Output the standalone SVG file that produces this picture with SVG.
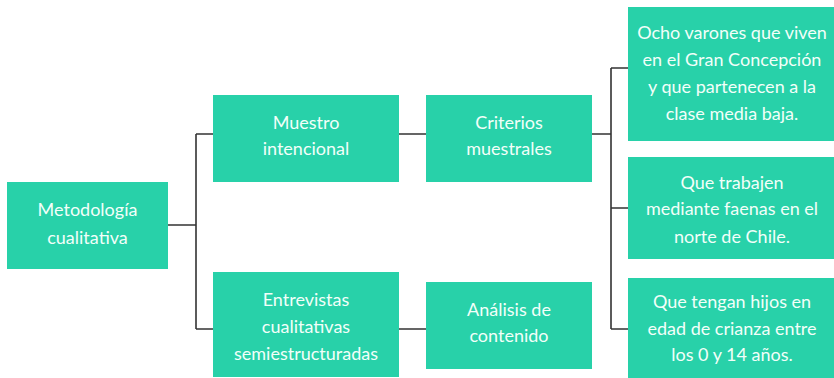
<svg xmlns="http://www.w3.org/2000/svg" width="834" height="378" viewBox="0 0 834 378">
<style>
.box{fill:#28d1a9}
.t{font-family:Lato,"Open Sans",sans-serif;font-size:18px;fill:#f2fff9;text-anchor:middle}
.c{fill:none;stroke:#333;stroke-width:1.6}
</style>
<rect width="834" height="378" fill="#fff"/>
<g id="connectors">
<path class="c" d="M168 225H196M196 134V329M196 134H213M196 329H213"/>
<path class="c" d="M399 134H426M399 329H426"/>
<path class="c" d="M592 134H611M611 68V329M611 68H628M611 208H628M611 329H628"/>
</g>
<g id="n1"><rect class="box" x="7" y="182" width="161" height="87"/>
<text class="t" x="87.5" y="216">Metodología</text><text class="t" x="87.5" y="244">cualitativa</text></g>
<g id="n2"><rect class="box" x="213" y="95" width="186" height="87"/>
<text class="t" x="306" y="129">Muestro</text><text class="t" x="306" y="155">intencional</text></g>
<g id="n3"><rect class="box" x="213" y="272" width="186" height="105"/>
<text class="t" x="306" y="306">Entrevistas</text><text class="t" x="306" y="333">cualitativas</text><text class="t" x="306" y="360">semiestructuradas</text></g>
<g id="n4"><rect class="box" x="426" y="95" width="166" height="87"/>
<text class="t" x="509" y="129">Criterios</text><text class="t" x="509" y="155">muestrales</text></g>
<g id="n5"><rect class="box" x="426" y="282" width="166" height="87"/>
<text class="t" x="509" y="316">Análisis de</text><text class="t" x="509" y="342">contenido</text></g>
<g id="n6"><rect class="box" x="628" y="7" width="206" height="134"/>
<text class="t" x="732" y="39">Ocho varones que viven</text><text class="t" x="732" y="66">en el Gran Concepción</text><text class="t" x="732" y="93">y que partenecen a la</text><text class="t" x="732" y="120">clase media baja.</text></g>
<g id="n7"><rect class="box" x="628" y="157" width="206" height="102"/>
<text class="t" x="732" y="189">Que trabajen</text><text class="t" x="732" y="215">mediante faenas en el</text><text class="t" x="732" y="243">norte de Chile.</text></g>
<g id="n8"><rect class="box" x="628" y="278" width="206" height="100"/>
<text class="t" x="732" y="308">Que tengan hijos en</text><text class="t" x="732" y="335">edad de crianza entre</text><text class="t" x="732" y="361">los 0 y 14 años.</text></g>
</svg>
